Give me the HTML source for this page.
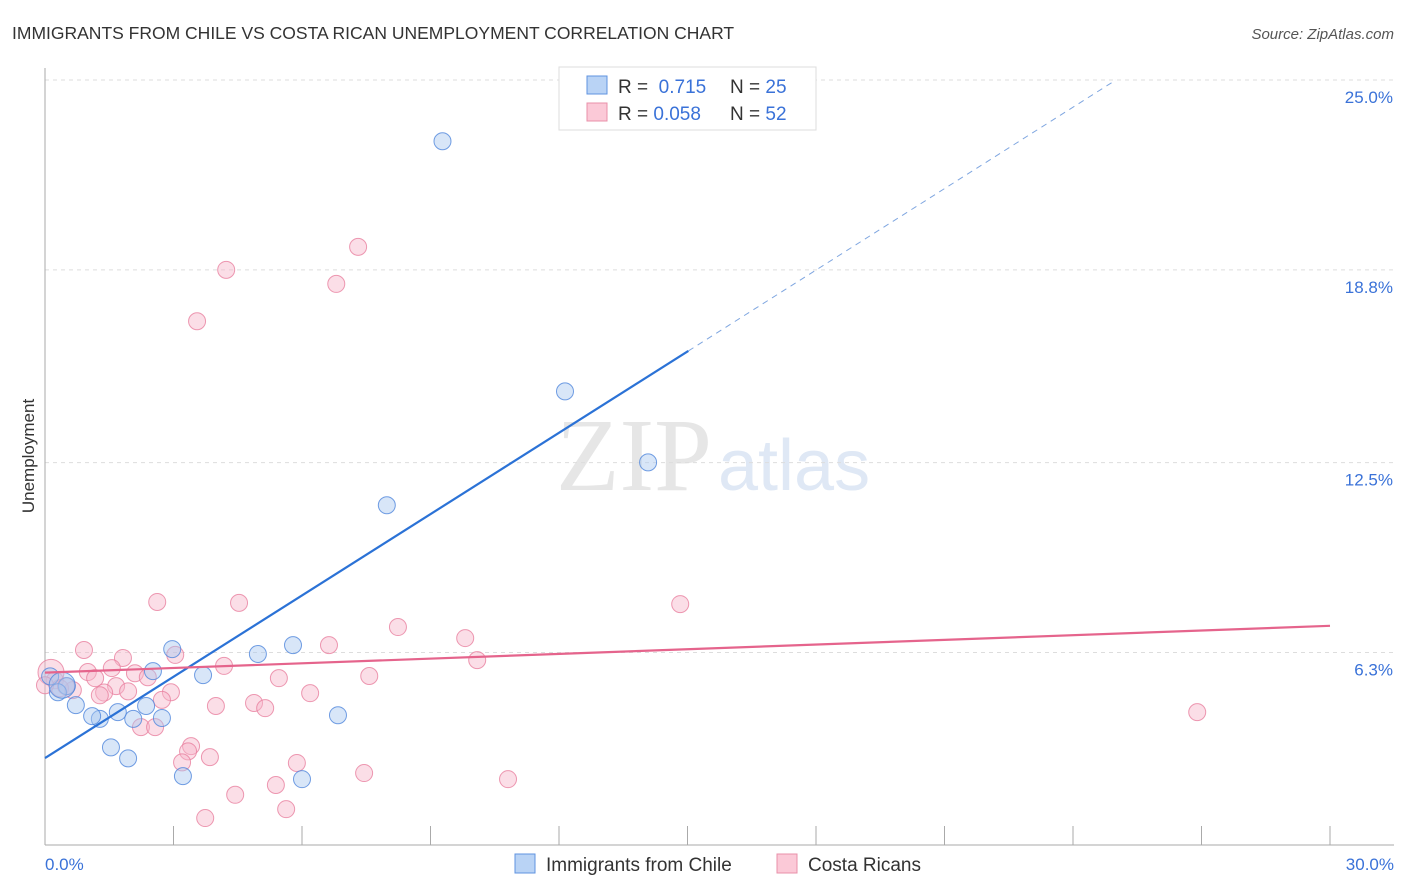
<!DOCTYPE html>
<html><head><meta charset="utf-8"><style>
body{margin:0;background:#fff;font-family:"Liberation Sans",sans-serif;}
svg{display:block}
</style></head><body>
<svg id="c" width="1406" height="892">
<text x="12" y="39" font-size="17.5" fill="#333">IMMIGRANTS FROM CHILE VS COSTA RICAN UNEMPLOYMENT CORRELATION CHART</text>
<text x="1394" y="39" font-size="15" fill="#555" font-style="italic" text-anchor="end">Source: ZipAtlas.com</text>
<text x="712" y="490" font-size="104" fill="#e6e6e6" text-anchor="end" font-family="Liberation Serif">ZIP</text>
<text x="718" y="490" font-size="72" fill="#dfe8f5">atlas</text>
<text x="34" y="456" font-size="17" fill="#333" transform="rotate(-90 34 456)" text-anchor="middle">Unemployment</text>
<g id="grid"></g><g id="pts"></g><g id="lines"></g>
<text x="45" y="870" font-size="17" fill="#3a72d8">0.0%</text>
<text x="1394" y="870" font-size="17" fill="#3a72d8" text-anchor="end">30.0%</text>
<g>
<rect x="559" y="67" width="257" height="63" fill="#fff" stroke="#ddd"/>
<rect x="587" y="76" width="20" height="18" fill="#b9d3f5" stroke="#5f93e0"/>
<rect x="587" y="103" width="20" height="18" fill="#fbc9d7" stroke="#e890aa"/>
<text x="618" y="93" font-size="19" fill="#333">R = <tspan fill="#3a72d8">&#160;0.715</tspan><tspan x="730">N = </tspan><tspan fill="#3a72d8">25</tspan></text>
<text x="618" y="120" font-size="19" fill="#333">R = <tspan fill="#3a72d8">0.058</tspan><tspan x="730">N = </tspan><tspan fill="#3a72d8">52</tspan></text>
</g>
<g>
<rect x="515" y="854" width="20" height="19" fill="#b9d3f5" stroke="#5f93e0"/>
<text x="546" y="871" font-size="19" fill="#333">Immigrants from Chile</text>
<rect x="777" y="854" width="20" height="19" fill="#fbc9d7" stroke="#e890aa"/>
<text x="808" y="871" font-size="19" fill="#333">Costa Ricans</text>
</g>
</svg>
<script>
const yTicks=[25.0,18.8,12.5,6.3];
const xTickVals=[3,6,9,12,15,18,21,24,27,30];
const blueX=[9.28,12.14,14.08,7.98,5.79,4.97,2.97,2.52,3.69,6.84,6.0,3.22,1.94,1.54,2.73,2.36,2.06,1.7,1.28,1.1,0.72,0.51,0.30,0.12,0.40];
const blueY=[23.0,14.83,12.51,11.11,6.54,6.25,6.41,5.69,5.56,4.25,2.16,2.26,2.84,3.2,4.16,4.55,4.13,4.35,4.13,4.22,4.58,5.2,5.0,5.52,5.23];
const pinkX=[7.31,4.23,6.8,3.55,14.83,2.62,4.53,8.24,9.81,6.63,0.91,1.82,3.04,4.18,10.09,1.0,1.56,2.1,1.17,2.4,7.57,5.46,1.66,0.65,1.38,1.94,6.19,2.94,0.23,0.14,0.35,0.49,2.73,4.88,5.14,3.99,2.24,2.57,26.9,3.41,3.34,3.2,3.85,5.88,7.45,10.81,5.39,4.44,5.63,3.74,0.0,1.28];
const pinkY=[19.55,18.8,18.34,17.12,7.88,7.95,7.92,7.13,6.77,6.54,6.38,6.12,6.22,5.86,6.05,5.66,5.79,5.62,5.46,5.49,5.53,5.46,5.2,5.07,4.99,5.03,4.97,5.0,5.39,5.65,5.13,5.2,4.75,4.65,4.48,4.55,3.86,3.86,4.35,3.24,3.07,2.71,2.88,2.69,2.36,2.16,1.97,1.65,1.18,0.89,5.23,4.9];
const blueTrend=[[0,2.85],[15.02,16.15],[25,25.0]];
const pinkTrend=[[0,5.64],[30,7.17]];
const NS='http://www.w3.org/2000/svg';
const X=v=>45+v/30*1285, Y=v=>845.3-v*30.61;
function mk(t,a,p){const e=document.createElementNS(NS,t);for(const k in a)e.setAttribute(k,a[k]);document.getElementById(p).appendChild(e);return e;}
yTicks.forEach(t=>{
 const g=mk('line',{x1:45,x2:1394,y1:Y(t),y2:Y(t),stroke:'#ddd','stroke-dasharray':'4,4'},'grid');
 
 
 const l=mk('text',{x:1393,y:Y(t)+23,'font-size':17,fill:'#3a72d8','text-anchor':'end'},'grid');
 l.textContent=t.toFixed(1)+'%';
 
 
});
const ax=mk('line',{x1:45,x2:45,y1:68,y2:845,stroke:'#aaa'},'grid');


const bx=mk('line',{x1:45,x2:1394,y1:845,y2:845,stroke:'#aaa'},'grid');


xTickVals.forEach(t=>{
 const k=mk('line',{x1:X(t),x2:X(t),y1:826,y2:845,stroke:'#aaa'},'grid');
 
 
});
function dots(xs,ys,fill,stroke,name){xs.forEach((x,i)=>{
 const big=(i===xs.length-1&&name==='blue-point')||(name==='pink-point'&&i===29);
 const c=mk('circle',{cx:X(x),cy:Y(ys[i]),r:big?13:8.5,fill:fill,'fill-opacity':0.45,stroke:stroke,'stroke-opacity':0.8,'stroke-width':1},'pts');
 
 
});}
dots(pinkX,pinkY,'#f7b6c9','#e87f9f','pink-point');
dots(blueX,blueY,'#a9c8f0','#4f86dc','blue-point');
const b1=mk('line',{x1:X(blueTrend[0][0]),y1:Y(blueTrend[0][1]),x2:X(blueTrend[1][0]),y2:Y(blueTrend[1][1]),stroke:'#2b72d6','stroke-width':2.2},'lines');


const b2=mk('line',{x1:X(blueTrend[1][0]),y1:Y(blueTrend[1][1]),x2:X(blueTrend[2][0]),y2:Y(blueTrend[2][1]),stroke:'#7fa6e0','stroke-width':1,'stroke-dasharray':'6,5'},'lines');


const p1=mk('line',{x1:X(pinkTrend[0][0]),y1:Y(pinkTrend[0][1]),x2:X(pinkTrend[1][0]),y2:Y(pinkTrend[1][1]),stroke:'#e5648c','stroke-width':2.2},'lines');


</script>
</body></html>
